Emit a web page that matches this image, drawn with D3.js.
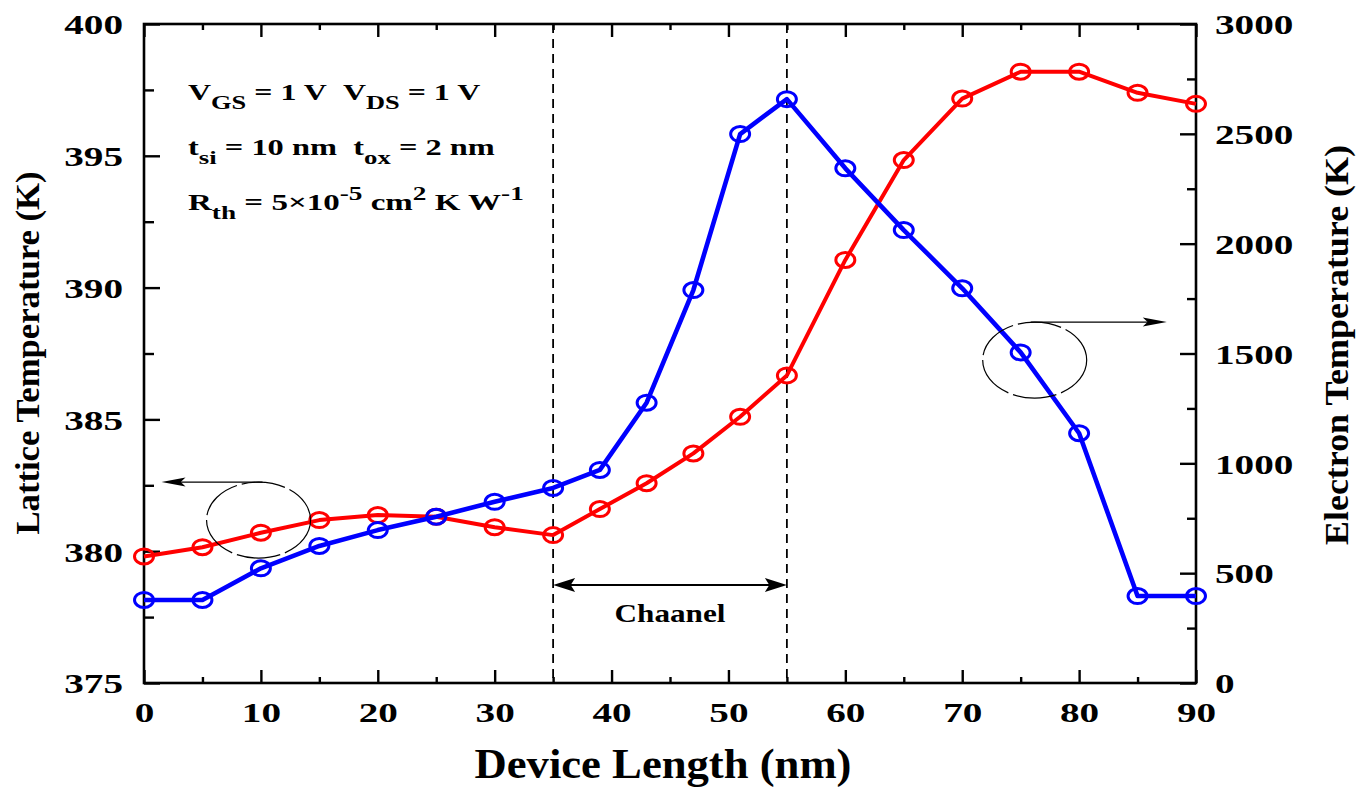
<!DOCTYPE html>
<html>
<head>
<meta charset="utf-8">
<script src="https://cdn.jsdelivr.net/npm/d3@7"></script>
<style>
  html, body { margin: 0; padding: 0; background: #fff; }
  svg { display: block; }
  text { font-family: "Liberation Serif", "Times New Roman", Times, serif; font-weight: bold; fill: #000; }
</style>
</head>
<body>
<svg id="chart" width="1364" height="790"></svg>
<script>
// Position along the device (nm)
const lengthNm = [0, 5, 10, 15, 20, 25, 30, 35, 39, 43, 47, 51, 55, 60, 65, 70, 75, 80, 85, 90];
// Lattice temperature (K), left axis
const latticeK = [379.8, 380.15, 380.7, 381.18, 381.37, 381.31, 380.91, 380.61, 381.6, 382.58,
                  383.71, 385.1, 386.67, 391.05, 394.84, 397.17, 398.19, 398.19, 397.39, 396.97];
// Electron temperature (K), right axis
const electronK = [378, 378, 522, 624, 696, 757, 825, 888, 970, 1276,
                   1789, 2499, 2658, 2343, 2062, 1797, 1505, 1137, 396, 396];

// Tick values
const xMajor = [0, 10, 20, 30, 40, 50, 60, 70, 80, 90];
const xMinor = [5, 15, 25, 35, 45, 55, 65, 75, 85];
const leftMajor = [375, 380, 385, 390, 395, 400];
const leftMinor = [377.5, 382.5, 387.5, 392.5, 397.5];
const rightMajor = [0, 500, 1000, 1500, 2000, 2500, 3000];
const rightMinor = [250, 750, 1250, 1750, 2250, 2750];

// Channel boundaries (nm)
const channelEdges = [35, 55];

const svg = d3.select("#chart");
const W = 1364, H = 790;
const plot = { left: 144, right: 1196, top: 24, bottom: 683 };

svg.append("rect").attr("width", W).attr("height", H).attr("fill", "#fff");

const x = d3.scaleLinear().domain([0, 90]).range([plot.left, plot.right]);
const yL = d3.scaleLinear().domain([375, 400]).range([plot.bottom, plot.top]);
const yR = d3.scaleLinear().domain([0, 3000]).range([plot.bottom, plot.top]);

const STRETCH = 1.4; // wide tick-label lettering

function styleAxis(g) {
  g.select(".domain").remove();
  g.selectAll(".tick line").attr("stroke", "#000").attr("stroke-width", 2.4);
}

// ---- Axes (ticks point inward) ----
const gBottom = svg.append("g").attr("transform", `translate(0,${plot.bottom})`)
  .call(d3.axisBottom(x).tickValues(xMajor).tickSize(-13).tickFormat(d3.format("d")));
styleAxis(gBottom);
gBottom.selectAll(".tick text")
  .attr("y", 0).attr("dy", "0.35em")
  .attr("font-size", 28).attr("text-anchor", "middle")
  .attr("transform", `translate(0,29) scale(${STRETCH},1)`);
svg.append("g").attr("transform", `translate(0,${plot.bottom})`)
  .call(d3.axisBottom(x).tickValues(xMinor).tickSize(-6).tickFormat(""))
  .call(styleAxis);

svg.append("g").attr("transform", `translate(0,${plot.top})`)
  .call(d3.axisTop(x).tickValues(xMajor).tickSize(-13).tickFormat(""))
  .call(styleAxis);
svg.append("g").attr("transform", `translate(0,${plot.top})`)
  .call(d3.axisTop(x).tickValues(xMinor).tickSize(-6).tickFormat(""))
  .call(styleAxis);

const gLeft = svg.append("g").attr("transform", `translate(${plot.left},0)`)
  .call(d3.axisLeft(yL).tickValues(leftMajor).tickSize(-16).tickFormat(d3.format("d")));
styleAxis(gLeft);
gLeft.selectAll(".tick text")
  .attr("x", 0).attr("dy", "0.35em")
  .attr("font-size", 28).attr("text-anchor", "end")
  .attr("transform", `translate(-21,0) scale(${STRETCH},1)`);
svg.append("g").attr("transform", `translate(${plot.left},0)`)
  .call(d3.axisLeft(yL).tickValues(leftMinor).tickSize(-10).tickFormat(""))
  .call(styleAxis);

const gRight = svg.append("g").attr("transform", `translate(${plot.right},0)`)
  .call(d3.axisRight(yR).tickValues(rightMajor).tickSize(-16).tickFormat(d3.format("d")));
styleAxis(gRight);
gRight.selectAll(".tick text")
  .attr("x", 0).attr("dy", "0.35em")
  .attr("font-size", 28).attr("text-anchor", "start")
  .attr("transform", `translate(19,0) scale(${STRETCH},1)`);
svg.append("g").attr("transform", `translate(${plot.right},0)`)
  .call(d3.axisRight(yR).tickValues(rightMinor).tickSize(-9).tickFormat(""))
  .call(styleAxis);

// Frame
svg.append("rect")
  .attr("x", plot.left).attr("y", plot.top)
  .attr("width", plot.right - plot.left).attr("height", plot.bottom - plot.top)
  .attr("fill", "none").attr("stroke", "#000").attr("stroke-width", 2.6);

// ---- Channel markers ----
svg.append("g").selectAll("line").data(channelEdges).join("line")
  .attr("x1", d => x(d)).attr("x2", d => x(d))
  .attr("y1", plot.top).attr("y2", plot.bottom)
  .attr("stroke", "#000").attr("stroke-width", 1.8)
  .attr("stroke-dasharray", "9,6");

function arrowHead(g, tipX, tipY, dir, len, half) {
  g.append("path")
    .attr("d", `M${tipX},${tipY} L${tipX - dir * len},${tipY - half} L${tipX - dir * len * 0.8},${tipY} L${tipX - dir * len},${tipY + half} Z`)
    .attr("fill", "#000");
}

const chY = 585;
const gCh = svg.append("g");
gCh.append("line")
  .attr("x1", x(channelEdges[0]) + 10).attr("x2", x(channelEdges[1]) - 10)
  .attr("y1", chY).attr("y2", chY)
  .attr("stroke", "#000").attr("stroke-width", 2);
arrowHead(gCh, x(channelEdges[0]), chY, -1, 22, 7);
arrowHead(gCh, x(channelEdges[1]), chY, 1, 22, 7);
gCh.append("text")
  .attr("x", (x(channelEdges[0]) + x(channelEdges[1])) / 2).attr("y", 622)
  .attr("text-anchor", "middle").attr("font-size", 25)
  .attr("textLength", 111).attr("lengthAdjust", "spacingAndGlyphs")
  .text("Chaanel");

// ---- Series ----
const pts = lengthNm.map((d, i) => ({ x: d, lat: latticeK[i], el: electronK[i] }));

const series = [
  { key: "lat", y: yL, color: "#ff0000", width: 4 },
  { key: "el", y: yR, color: "#0000ff", width: 4.6 }
];

series.forEach(s => {
  const line = d3.line().x(d => x(d.x)).y(d => s.y(d[s.key]));
  const g = svg.append("g");
  g.append("path").datum(pts)
    .attr("d", line).attr("fill", "none")
    .attr("stroke", s.color).attr("stroke-width", s.width)
    .attr("stroke-linejoin", "round");
  g.selectAll("ellipse").data(pts).join("ellipse")
    .attr("cx", d => x(d.x)).attr("cy", d => s.y(d[s.key]))
    .attr("rx", 9.5).attr("ry", 7.5)
    .attr("fill", "none").attr("stroke", s.color).attr("stroke-width", 3);
});

// ---- Axis-assignment callouts ----
function callout(cxNm, cyPx, tipNm, dir) {
  const g = svg.append("g");
  const cx = x(cxNm), rx = 52, ry = 38;
  g.append("ellipse")
    .attr("cx", cx).attr("cy", cyPx).attr("rx", rx).attr("ry", ry)
    .attr("fill", "none").attr("stroke", "#000").attr("stroke-width", 1.2)
    .attr("stroke-dasharray", "44,5");
  const ty = cyPx - ry;
  const tip = x(tipNm);
  g.append("line")
    .attr("x1", cx - dir * 4).attr("x2", tip - dir * 16)
    .attr("y1", ty).attr("y2", ty)
    .attr("stroke", "#000").attr("stroke-width", 1.3);
  arrowHead(g, tip, ty, dir, 24, 4.5);
}
// Lattice curve -> left axis, electron curve -> right axis
callout(9.8, yL(381.18), 1.5, -1);
callout(76.2, yR(1470), 87.5, 1);

// ---- Bias / device annotation ----
const ann = svg.append("g").attr("font-size", 23);
function annLine(yBase, parts, targetW) {
  const t = ann.append("text").attr("x", 0).attr("y", 0).style("white-space", "pre");
  parts.forEach(p => {
    const ts = t.append("tspan").text(p.t);
    if (p.sub) ts.attr("font-size", 19).attr("dy", 9);
    if (p.sup) ts.attr("font-size", 19).attr("dy", -10);
    if (p.back) ts.attr("dy", p.back);
  });
  const w = t.node().getBBox().width;
  t.attr("transform", `translate(188,${yBase}) scale(${targetW / w},1)`);
}
const GAP = "\u00a0\u00a0";
annLine(100, [
  { t: "V" }, { t: "GS", sub: true }, { t: " = 1 V" + GAP + "V", back: -9 }, { t: "DS", sub: true }, { t: " = 1 V", back: -9 }
], 293);
annLine(155, [
  { t: "t" }, { t: "si", sub: true }, { t: " = 10 nm" + GAP + "t", back: -9 }, { t: "ox", sub: true }, { t: " = 2 nm", back: -9 }
], 307);
annLine(210, [
  { t: "R" }, { t: "th", sub: true }, { t: " = 5\u00d710", back: -9 }, { t: "-5", sup: true },
  { t: " cm", back: 10 }, { t: "2", sup: true }, { t: " K W", back: 10 }, { t: "-1", sup: true }
], 336);

// ---- Axis titles ----
svg.append("text")
  .attr("x", 663).attr("y", 778).attr("text-anchor", "middle")
  .attr("font-size", 42).attr("textLength", 377).attr("lengthAdjust", "spacingAndGlyphs")
  .text("Device Length (nm)");

svg.append("text")
  .attr("transform", "translate(39,353) rotate(-90)")
  .attr("text-anchor", "middle").attr("font-size", 33)
  .attr("textLength", 363).attr("lengthAdjust", "spacingAndGlyphs")
  .text("Lattice Temperature (K)");

svg.append("text")
  .attr("transform", "translate(1348,345) rotate(-90)")
  .attr("text-anchor", "middle").attr("font-size", 33)
  .attr("textLength", 400).attr("lengthAdjust", "spacingAndGlyphs")
  .text("Electron Temperature (K)");
</script>
</body>
</html>
